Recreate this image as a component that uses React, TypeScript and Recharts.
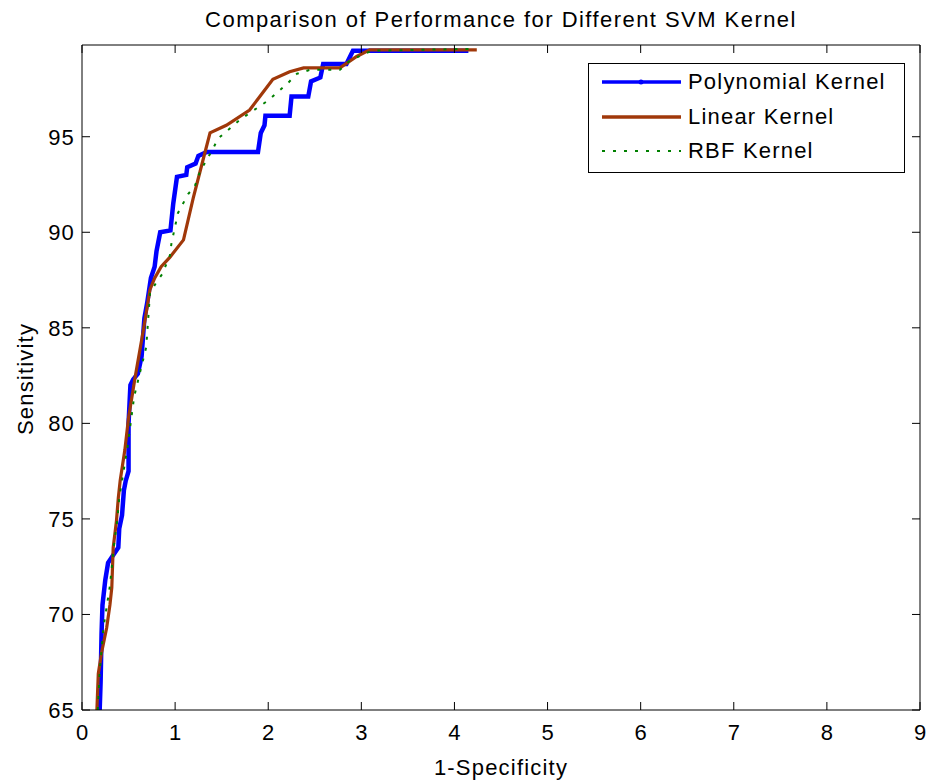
import { LineChart, Line, XAxis, YAxis, Legend, ReferenceLine } from 'recharts';

const X_TICKS = [0, 1, 2, 3, 4, 5, 6, 7, 8, 9];
const Y_TICKS = [65, 70, 75, 80, 85, 90, 95];
const X_DOMAIN = [0, 9];
const Y_DOMAIN = [65, 99.8];

// [1-specificity, sensitivity]
const polynomial = [
  [0.19, 65], [0.2, 66.5], [0.21, 69], [0.22, 70.5], [0.25, 71.8], [0.28, 72.7],
  [0.39, 73.5], [0.4, 74.5], [0.43, 75.2], [0.45, 76.5], [0.47, 77], [0.5, 77.5],
  [0.5, 80], [0.52, 82], [0.55, 82.3], [0.6, 82.6], [0.64, 83.5], [0.67, 85.5],
  [0.7, 86.3], [0.74, 87.6], [0.78, 88.2], [0.8, 89], [0.84, 90], [0.95, 90.1],
  [0.98, 91.5], [1.02, 92.9], [1.12, 93.0], [1.13, 93.4], [1.22, 93.6], [1.25, 94],
  [1.34, 94.2], [1.89, 94.2], [1.92, 95.2], [1.96, 95.6], [1.97, 96.1], [2.23, 96.1],
  [2.25, 97.1], [2.43, 97.1], [2.46, 97.9], [2.56, 98.1], [2.59, 98.8], [2.84, 98.8],
  [2.91, 99.5], [4.15, 99.5],
];

const linear = [
  [0.16, 65], [0.175, 66.9], [0.21, 68], [0.265, 69.3], [0.3, 70.5], [0.32, 71.4],
  [0.335, 73.5], [0.37, 74.9], [0.39, 76.1], [0.41, 77], [0.46, 78.6], [0.5, 80.3],
  [0.57, 82.4], [0.66, 84.9], [0.73, 87], [0.78, 87.6], [0.85, 88.2], [0.945, 88.7],
  [1.09, 89.6], [1.195, 91.8], [1.29, 93.6], [1.375, 95.2], [1.55, 95.6], [1.8, 96.4],
  [1.91, 97.1], [2.05, 98.0], [2.23, 98.4], [2.38, 98.6], [2.77, 98.6], [2.95, 99.2],
  [3.09, 99.55], [4.24, 99.55],
];

const rbf = [
  [0.17, 65], [0.19, 67], [0.23, 69.3], [0.3, 71.5], [0.34, 73.5], [0.38, 75],
  [0.4, 76.1], [0.49, 78.8], [0.56, 81.4], [0.62, 82.6], [0.69, 84], [0.73, 86.8],
  [0.8, 87.4], [0.86, 87.8], [0.945, 88.8], [0.96, 89.4], [1.03, 91], [1.14, 92],
  [1.21, 92.4], [1.27, 93.2], [1.41, 94.4], [1.46, 94.9], [1.7, 95.9], [2.0, 96.9],
  [2.21, 97.8], [2.31, 98.3], [2.45, 98.5], [2.77, 98.5], [2.88, 99.0], [3.11, 99.5],
  [4.2, 99.6],
];

const toRows = (pts: number[][]) => pts.map(([x, y]) => ({ x, y }));

const FONT = '"Liberation Sans", Arial, sans-serif';
const FS = 22;
const LS = 1.2;

// plot box inside the svg
const PLOT = { left: 74, right: 912, top: 37, bottom: 702 };
const TICK = 8;

const SERIES = [
  { name: 'Polynomial Kernel', color: '#0000FF', width: 4.5, dash: undefined as string | undefined, data: polynomial },
  { name: 'Linear Kernel', color: '#A0380A', width: 3.2, dash: undefined as string | undefined, data: linear },
  { name: 'RBF Kernel', color: '#008000', width: 2, dash: '3 8', data: rbf },
];

function LegendBox() {
  return (
    <div style={{ width: 315, height: 108, border: '1.5px solid #000', background: '#fff', fontFamily: FONT }}>
      {SERIES.map((s, i) => (
        <div key={s.name} style={{ position: 'absolute', left: 0, top: 4 + i * 34.6, height: 30, display: 'flex', alignItems: 'center' }}>
          <svg width={100} height={30} style={{ display: 'block' }}>
            <line x1={14} x2={93} y1={15} y2={15} stroke={s.color} strokeWidth={s.dash ? 2 : 3.5} strokeDasharray={s.dash} />
            {s.name === 'Polynomial Kernel' && <circle cx={53} cy={15} r={2.5} fill={s.color} />}
          </svg>
          <span style={{ fontSize: FS, letterSpacing: LS, color: '#000' }}>{s.name}</span>
        </div>
      ))}
    </div>
  );
}

// tick labels plus inward tick marks on both sides of the box
function XTick(props: any) {
  const { x, payload } = props;
  return (
    <g>
      <line x1={x} x2={x} y1={PLOT.bottom} y2={PLOT.bottom - TICK} stroke="#000" />
      <line x1={x} x2={x} y1={PLOT.top} y2={PLOT.top + TICK} stroke="#000" />
      <text x={x} y={PLOT.bottom + 30} textAnchor="middle" fontSize={FS} fontFamily={FONT} fill="#000">{payload.value}</text>
    </g>
  );
}

function YTick(props: any) {
  const { y, payload } = props;
  return (
    <g>
      <line x1={PLOT.left} x2={PLOT.left + TICK} y1={y} y2={y} stroke="#000" />
      <line x1={PLOT.right} x2={PLOT.right - TICK} y1={y} y2={y} stroke="#000" />
      <text x={PLOT.left - 7} y={y} dy="0.36em" textAnchor="end" fontSize={FS} fontFamily={FONT} letterSpacing={LS} fill="#000">{payload.value}</text>
    </g>
  );
}

const textProps = { fontSize: FS, fontFamily: FONT, letterSpacing: LS, fill: '#000' };

export default function App() {
  return (
    <div style={{ position: 'relative', width: 920, height: 775, background: '#fff' }}>
      <LineChart width={920} height={775} margin={{ top: 37, right: 8, left: 0, bottom: 0 }}>
        <XAxis
          xAxisId="b"
          type="number"
          dataKey="x"
          domain={X_DOMAIN}
          ticks={X_TICKS}
          interval={0}
          allowDataOverflow
          height={73}
          stroke="#000"
          tickLine={false}
          tick={<XTick />}
          label={() => (
            <g>
              <text x={493} y={767} textAnchor="middle" {...textProps}>1-Specificity</text>
              <text x={493} y={19} textAnchor="middle" {...textProps} letterSpacing={1.45}>Comparison of Performance for Different SVM Kernel</text>
            </g>
          )}
        />
        <YAxis
          yAxisId="l"
          type="number"
          dataKey="y"
          domain={Y_DOMAIN}
          ticks={Y_TICKS}
          interval={0}
          allowDataOverflow
          width={74}
          stroke="#000"
          tickLine={false}
          tick={<YTick />}
          label={() => (
            <text x={25} y={371} transform="rotate(-90 25 371)" textAnchor="middle" {...textProps}>Sensitivity</text>
          )}
        />
        <ReferenceLine xAxisId="b" yAxisId="l" y={Y_DOMAIN[1]} stroke="#000" strokeWidth={1} />
        <ReferenceLine xAxisId="b" yAxisId="l" x={X_DOMAIN[1]} stroke="#000" strokeWidth={1} />
        <Legend
          layout="horizontal"
          verticalAlign="middle"
          align="center"
          content={() => <LegendBox />}
          wrapperStyle={{ position: 'absolute', left: 580, top: 55, width: 318, height: 111 }}
        />
        {SERIES.map((s) => (
          <Line
            key={s.name}
            xAxisId="b"
            yAxisId="l"
            name={s.name}
            data={toRows(s.data)}
            dataKey="y"
            type="linear"
            stroke={s.color}
            strokeWidth={s.width}
            strokeDasharray={s.dash}
            strokeLinejoin="miter"
            dot={false}
            activeDot={false}
            isAnimationActive={false}
          />
        ))}
      </LineChart>
    </div>
  );
}
